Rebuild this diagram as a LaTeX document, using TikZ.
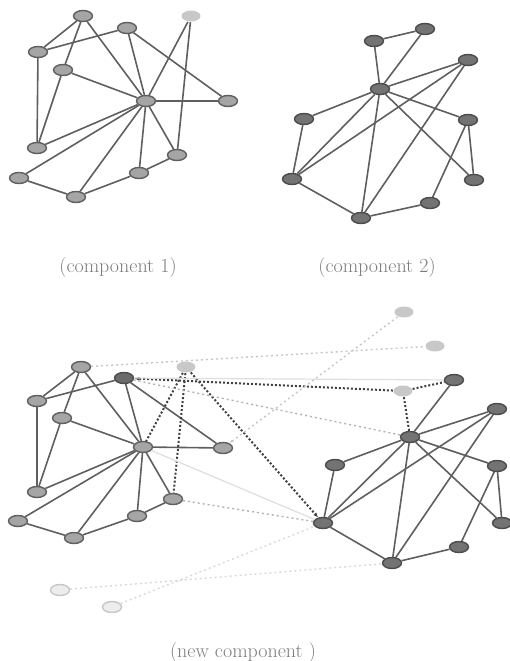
\documentclass[tikz,border=0pt]{standalone}
\usepackage{amsmath}
\usepackage{tikz}
\usetikzlibrary{shapes.geometric,arrows.meta}
\definecolor{linkgray}{RGB}{95,95,95}
\definecolor{nodegray}{RGB}{165,165,165}
\definecolor{darkgray}{RGB}{115,115,115}
\definecolor{palegray}{RGB}{200,200,200}
\definecolor{textgray}{RGB}{125,125,125}
\tikzset{
  vtx/.style={ellipse, draw=linkgray, line width=1.4pt, fill=nodegray,
    minimum width=19pt, minimum height=11pt, inner sep=0pt},
  vtxdark/.style={vtx, fill=darkgray, draw=black!70},
  vtxlight/.style={vtx, fill=palegray, draw=none},
  vtxghost/.style={vtx, fill=black!7, draw=black!22},
  link/.style={draw=linkgray, line width=1.6pt},
  move/.style={draw=black!75, line width=2pt, dotted},
  hint/.style={draw=black!22, line width=1.4pt, dash pattern=on 2pt off 3pt},
  faint/.style={draw=black!13, line width=1.2pt},
  caption/.style={text=textgray, font=\fontsize{20}{24}\selectfont}
}

\begin{document}
\begin{tikzpicture}[x=1pt, y=-1pt]
  \useasboundingbox (0,0) rectangle (510,661);

  % Define nodes: component 1
  \node[vtx] (a1) at (83,16) {};
  \node[vtx] (a2) at (127,28) {};
  \node[vtxlight] (a3) at (191,16) {};
  \node[vtx] (a4) at (38,52) {};
  \node[vtx] (a5) at (63,70) {};
  \node[vtx] (hub1) at (146,101) {};
  \node[vtx] (a6) at (228,101) {};
  \node[vtx] (a7) at (37,148) {};
  \node[vtx] (a8) at (177,155) {};
  \node[vtx] (a9) at (139,173) {};
  \node[vtx] (a10) at (19,178) {};
  \node[vtx] (a11) at (76,197) {};

  % Define nodes: component 2
  \node[vtxdark] (b1) at (374,41) {};
  \node[vtxdark] (b2) at (425,29) {};
  \node[vtxdark] (b3) at (468,60) {};
  \node[vtxdark] (hub2) at (380,89) {};
  \node[vtxdark] (b4) at (304,119) {};
  \node[vtxdark] (b5) at (468,120) {};
  \node[vtxdark] (b6) at (292,179) {};
  \node[vtxdark] (b7) at (474,180) {};
  \node[vtxdark] (b8) at (430,203) {};
  \node[vtxdark] (b9) at (361,218) {};

  % Define nodes: new component, left part
  \node[vtx] (n1) at (81,367) {};
  \node[vtxdark, fill=black!58] (n2) at (124,378) {};
  \node[vtxlight] (n3) at (186,367) {};
  \node[vtx] (n4) at (37,401) {};
  \node[vtx] (n5) at (62,418) {};
  \node[vtx] (hub3) at (143,447) {};
  \node[vtx] (n6) at (223,448) {};
  \node[vtx] (n7) at (37,492) {};
  \node[vtx] (n8) at (173,499) {};
  \node[vtx] (n9) at (137,516) {};
  \node[vtx] (n10) at (18,521) {};
  \node[vtx] (n11) at (74,538) {};

  % Define nodes: new component, right part
  \node[vtxlight] (p1) at (404,312) {};
  \node[vtxlight] (p2) at (435,346) {};
  \node[vtxlight] (r0) at (403,391) {};
  \node[vtxdark] (r1) at (454,380) {};
  \node[vtxdark] (r2) at (497,409) {};
  \node[vtxdark] (hub4) at (410,437) {};
  \node[vtxdark] (r3) at (335,465) {};
  \node[vtxdark] (r4) at (497,466) {};
  \node[vtxdark] (r5) at (323,523) {};
  \node[vtxdark] (r6) at (502,523) {};
  \node[vtxdark] (r7) at (459,547) {};
  \node[vtxdark] (r8) at (392,563) {};
  \node[vtxghost] (q1) at (60,590) {};
  \node[vtxghost] (q2) at (112,607) {};

  % Captions
  \node[caption] (cap1) at (118,268) {(component 1)};
  \node[caption] (cap2) at (377,268) {(component 2)};
  \node[caption] (cap3) at (243,653) {(new component )};

  % Connect the nodes: component 1
  \draw[link] (a1) -- (a4);
  \draw[link] (a4) -- (a2);
  \draw[link] (a1) -- (a5);
  \draw[link] (a1) -- (hub1);
  \draw[link] (a2) -- (hub1);
  \draw[link] (a2) -- (a6);
  \draw[link] (a4) -- (a7);
  \draw[link] (a5) -- (a7);
  \draw[link] (a5) -- (hub1);
  \draw[link] (a3) -- (hub1);
  \draw[link] (a3) -- (a8);
  \foreach \v in {a6,a7,a8,a9,a10,a11}
    \draw[link] (hub1) -- (\v);
  \draw[link] (a8) -- (a9);
  \draw[link] (a9) -- (a11);
  \draw[link] (a10) -- (a11);

  % Connect the nodes: component 2
  \draw[link] (b1) -- (b2);
  \foreach \v in {b1,b2,b3,b4,b5,b6,b7,b9}
    \draw[link] (hub2) -- (\v);
  \draw[link] (b3) -- (b6);
  \draw[link] (b3) -- (b9);
  \draw[link] (b4) -- (b6);
  \draw[link] (b5) -- (b7);
  \draw[link] (b5) -- (b8);
  \draw[link] (b6) -- (b9);
  \draw[link] (b9) -- (b8);

  % Connect the nodes: new component, left part
  \draw[link] (n1) -- (n4);
  \draw[link] (n4) -- (n2);
  \draw[link] (n1) -- (n5);
  \draw[link] (n1) -- (hub3);
  \draw[link] (n2) -- (hub3);
  \draw[link] (n2) -- (n6);
  \draw[link] (n4) -- (n7);
  \draw[link] (n5) -- (n7);
  \draw[link] (n5) -- (hub3);
  \foreach \v in {n6,n7,n8,n9,n10,n11}
    \draw[link] (hub3) -- (\v);
  \draw[link] (n8) -- (n9);
  \draw[link] (n9) -- (n11);
  \draw[link] (n10) -- (n11);

  % Connect the nodes: new component, right part
  \draw[link] (r1) -- (hub4);
  \foreach \v in {r2,r3,r4,r5,r6,r8}
    \draw[link] (hub4) -- (\v);
  \draw[link] (r2) -- (r5);
  \draw[link] (r2) -- (r8);
  \draw[link] (r3) -- (r5);
  \draw[link] (r4) -- (r6);
  \draw[link] (r4) -- (r7);
  \draw[link] (r5) -- (r8);
  \draw[link] (r8) -- (r7);

  % Moved links
  \draw[move] (n3) -- (hub3);
  \draw[move] (n3) -- (n8);
  \draw[move, -{Latex[length=5pt,width=4pt]}] (n3) -- (r5);
  \draw[move, -{Latex[length=5pt,width=4pt]}] (r0) -- (n2);
  \draw[move] (r0) -- (r1);
  \draw[move] (r0) -- (hub4);

  % Candidate links
  \draw[faint] (n2) -- (r1);
  \draw[hint, draw=black!30] (n2) -- (hub4);
  \draw[faint] (hub3) -- (r5);
  \draw[hint, draw=black!30] (n8) -- (r5);
  \draw[hint] (n1) -- (p2);
  \draw[hint, -{Latex[length=4pt,width=3pt]}] (p1) -- (n6);
  \draw[hint, draw=black!15] (q1) -- (r8);
  \draw[hint, draw=black!15] (q2) -- (r5);

\end{tikzpicture}
\end{document}
